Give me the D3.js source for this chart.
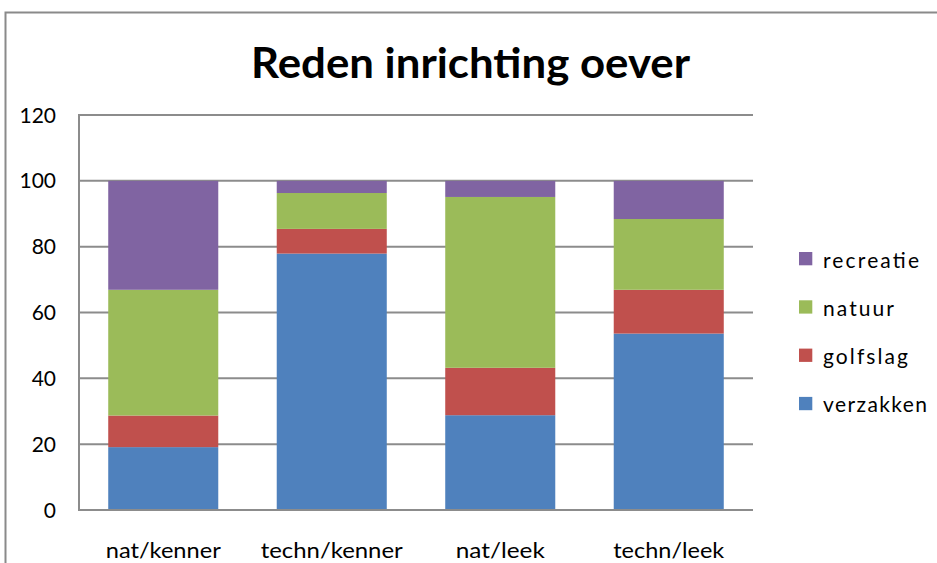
<!DOCTYPE html>
<html><head><meta charset="utf-8">
<script src="https://cdn.jsdelivr.net/npm/d3@7"></script>
<style>body{margin:0;background:#fff}svg{display:block}</style>
</head><body>
<script>
const categories = ["nat/kenner", "techn/kenner", "nat/leek", "techn/leek"];
const seriesNames = ["verzakken", "golfslag", "natuur", "recreatie"];
const verzakken = [19.1, 77.9, 28.8, 53.6];
const golfslag  = [9.6, 7.5, 14.4, 13.3];
const natuur    = [38.2, 10.9, 51.9, 21.5];
const recreatie = [33.1, 3.7, 4.9, 11.6];
const yTicks = [0, 20, 40, 60, 80, 100, 120];
const title = "Reden inrichting oever";

(function () {
const colors = {verzakken:"#4F81BD", golfslag:"#C0504D", natuur:"#9BBB59", recreatie:"#8064A2"};
const W = 937, H = 563;
const svg = d3.select("body").append("svg").attr("width", W).attr("height", H);
const font = "Lato, 'Open Sans', sans-serif";

// outer chart border
svg.append("rect").attr("x", 5.5).attr("y", 12.5).attr("width", 1000).attr("height", 1000)
  .attr("fill", "none").attr("stroke", "#8a8a8a").attr("stroke-width", 2);

const pL = 79, pR = 753, pT = 115, pB = 510;
const x = d3.scaleBand().domain(categories).range([pL, pR]).paddingInner(0.347).paddingOuter(0.1735);
const y = d3.scaleLinear().domain([0, 120]).range([pB, pT]);

// gridlines
svg.append("g").selectAll("line").data(yTicks).join("line")
  .attr("x1", pL).attr("x2", pR).attr("y1", d => y(d)).attr("y2", d => y(d))
  .attr("stroke", "#8c8c8c").attr("stroke-width", 2);

// stacked bars
const rows = categories.map((c, i) => ({cat: c, verzakken: verzakken[i], golfslag: golfslag[i], natuur: natuur[i], recreatie: recreatie[i]}));
const stack = d3.stack().keys(seriesNames)(rows);
svg.append("g").selectAll("g").data(stack).join("g").attr("fill", d => colors[d.key])
  .selectAll("rect").data(d => d).join("rect")
  .attr("x", d => x(d.data.cat)).attr("width", x.bandwidth())
  .attr("y", d => y(d[1])).attr("height", d => y(d[0]) - y(d[1]));

// axes lines
svg.append("line").attr("x1", pL).attr("x2", pL).attr("y1", pT - 1).attr("y2", pB + 1)
  .attr("stroke", "#8c8c8c").attr("stroke-width", 2);
svg.append("line").attr("x1", pL).attr("x2", pR).attr("y1", pB).attr("y2", pB)
  .attr("stroke", "#8c8c8c").attr("stroke-width", 2);

// y labels
svg.append("g").selectAll("text").data(yTicks).join("text")
  .attr("x", 56).attr("y", d => y(d)).attr("dy", "0.36em").attr("text-anchor", "end")
  .attr("font-family", font).attr("font-size", 21).attr("fill", "#000").text(d => d);

// x labels
const xLabelW = {"nat/kenner":115, "techn/kenner":142, "nat/leek":89, "techn/leek":111};
svg.append("g").selectAll("text").data(categories).join("text")
  .attr("x", d => x(d) + x.bandwidth() / 2).attr("y", 558).attr("text-anchor", "middle")
  .attr("font-family", font).attr("font-size", 21).attr("fill", "#000")
  .attr("textLength", d => xLabelW[d]).attr("lengthAdjust", "spacingAndGlyphs").text(d => d);

// title
svg.append("text").attr("x", 470.5).attr("y", 78).attr("text-anchor", "middle")
  .attr("font-family", font).attr("font-weight", "bold").attr("font-size", 42).attr("fill", "#000")
  .attr("textLength", 439).attr("lengthAdjust", "spacingAndGlyphs").text(title);

// legend
const legendOrder = ["recreatie", "natuur", "golfslag", "verzakken"];
const legW = {recreatie:96, natuur:71, golfslag:85, verzakken:104};
const lg = svg.append("g").selectAll("g").data(legendOrder).join("g")
  .attr("transform", (d, i) => `translate(799,${252 + i * 48.3})`);
lg.append("rect").attr("width", 13.3).attr("height", 13.3).attr("fill", d => colors[d]);
lg.append("text").attr("x", 24).attr("y", 15.5).attr("font-family", font).attr("font-size", 21)
  .attr("fill", "#000").attr("textLength", d => legW[d]).attr("lengthAdjust", "spacing").text(d => d);
})();
</script>
</body></html>
